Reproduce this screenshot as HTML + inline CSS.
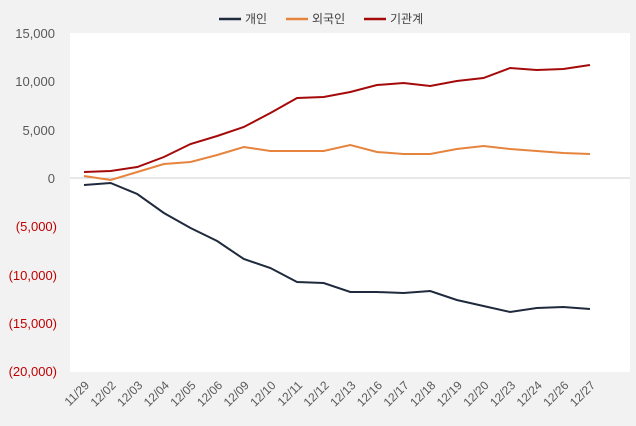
<!DOCTYPE html><html><head><meta charset="utf-8"><style>body{margin:0;background:#f2f2f2}svg{display:block;font-family:"Liberation Sans","Noto Sans CJK KR",sans-serif}</style></head><body>
<svg width="636" height="426" xmlns="http://www.w3.org/2000/svg">
<rect width="636" height="426" fill="#f2f2f2"/>
<rect x="70" y="33" width="560" height="339" fill="#fff"/>
<line x1="70" y1="178" x2="630" y2="178" stroke="#d0d0d0" stroke-width="1"/>
<g font-size="13" text-anchor="end" fill="#595959">
<text x="55" y="38">15,000</text><text x="55" y="86">10,000</text><text x="55" y="135">5,000</text><text x="55" y="183">0</text>
<g fill="#c00000"><text x="57" y="231">(5,000)</text><text x="57" y="280">(10,000)</text><text x="57" y="328">(15,000)</text><text x="57" y="376">(20,000)</text></g>
</g>
<g id="xl" font-size="12" fill="#595959" text-anchor="end"></g>
<polyline fill="none" stroke="#1f2a3c" stroke-width="2" points=""/>
<g font-size="12" fill="#404040">
<line x1="219" y1="19" x2="241" y2="19" stroke="#1f2a3c" stroke-width="2.5"/><text x="245" y="23">개인</text>
<line x1="286" y1="19" x2="308" y2="19" stroke="#e6843e" stroke-width="2.5"/><text x="312" y="23">외국인</text>
<line x1="364" y1="19" x2="386" y2="19" stroke="#a50a0a" stroke-width="2.5"/><text x="390" y="23">기관계</text>
</g>
<g id="lines"></g>
</svg>
<script>
const labels=["11/29","12/02","12/03","12/04","12/05","12/06","12/09","12/10","12/11","12/12","12/13","12/16","12/17","12/18","12/19","12/20","12/23","12/24","12/26","12/27"];
const a=[185,183,194,213,228,241,259,268,282,283,292,292,293,291,300,306,312,308,307,309];
const b=[176,180,172,164,162,155,147,151,151,151,145,152,154,154,149,146,149,151,153,154];
const c=[172,171,167,157,144,136,127,113,98,97,92,85,83,86,81,78,68,70,69,65];
const ns="http://www.w3.org/2000/svg",xl=document.getElementById("xl"),L=document.getElementById("lines");
const X=i=>84+i*26.63;
labels.forEach((t,i)=>{const e=document.createElementNS(ns,"text");e.setAttribute("transform",`translate(${X(i)+6},386) rotate(-45)`);e.textContent=t;xl.appendChild(e);});
[[b,"#e6843e"],[a,"#1f2a3c"],[c,"#a50a0a"]].forEach(([d,col])=>{const p=document.createElementNS(ns,"polyline");p.setAttribute("fill","none");p.setAttribute("stroke",col);p.setAttribute("stroke-width","2");p.setAttribute("points",d.map((y,i)=>X(i)+","+y).join(" "));L.appendChild(p);});
</script>
</body></html>
